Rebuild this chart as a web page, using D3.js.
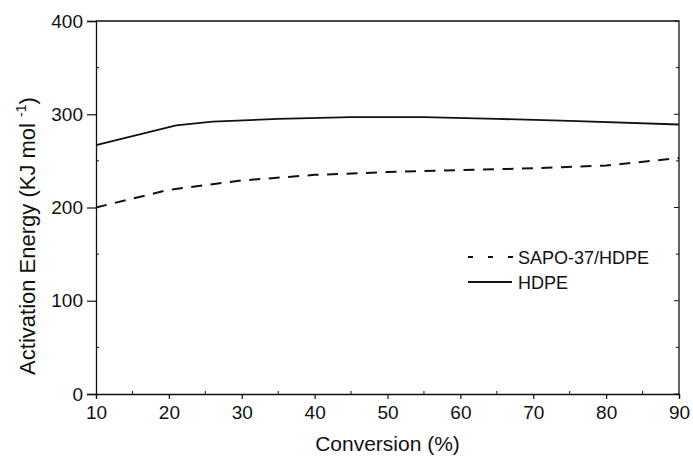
<!DOCTYPE html>
<html><head><meta charset="utf-8">
<script src="https://cdn.jsdelivr.net/npm/d3@7"></script>
<style>body{margin:0;background:#fff}svg{display:block}text{font-family:"Liberation Sans",Arial,sans-serif;fill:#111}</style>
</head><body><svg id="c" width="693" height="458"></svg>
<script>
const sapoX = [10, 20, 30, 40, 50, 60, 70, 80, 90];
const sapoY = [200, 219, 229, 235, 238, 240, 242, 245, 253];
const hdpeX = [10, 21, 26, 35, 45, 55, 65, 75, 90];
const hdpeY = [267, 288, 292, 295, 297, 297, 295, 293, 289];
const xTicks = [10, 20, 30, 40, 50, 60, 70, 80, 90];
const yTicks = [0, 100, 200, 300, 400];
const seriesNames = ["SAPO-37/HDPE", "HDPE"];

const svg = d3.select("#c");
const L = 96, R = 679, T = 21, B = 394;
const x = d3.scaleLinear().domain([10, 90]).range([L, R]);
const y = d3.scaleLinear().domain([0, 400]).range([B, T]);
const ink = "#111";

// frame
svg.append("path").attr("d", `M${L},${T}H${R}V${B}`).attr("fill","none").attr("stroke",ink).attr("stroke-width",1.3);

// left axis
const ya = svg.append("g").attr("transform",`translate(${L},0)`)
  .call(d3.axisLeft(y).tickValues(yTicks).tickSize(9).tickPadding(4).tickFormat(d3.format("d")));
ya.select(".domain").attr("stroke",ink).attr("stroke-width",1.3);
ya.selectAll(".tick line").attr("stroke",ink).attr("stroke-width",1.2);
ya.selectAll("text").attr("font-size",19).attr("fill",ink);
// minor y ticks (inward)
svg.append("g").selectAll("line").data(d3.range(50,400,100)).join("line")
  .attr("x1",L).attr("x2",L+3).attr("y1",d=>y(d)).attr("y2",d=>y(d)).attr("stroke",ink);
// right axis ticks
svg.append("g").selectAll("line").data(d3.range(0,401,50)).join("line")
  .attr("x1",R).attr("x2",d=> d%100===0 ? R-5 : R-3).attr("y1",d=>y(d)).attr("y2",d=>y(d)).attr("stroke",ink);

// bottom axis
const xa = svg.append("g").attr("transform",`translate(0,${B})`)
  .call(d3.axisBottom(x).tickValues(xTicks).tickSize(5).tickPadding(7).tickFormat(d3.format("d")));
xa.select(".domain").attr("stroke",ink).attr("stroke-width",1.3);
xa.selectAll(".tick line").attr("stroke",ink).attr("stroke-width",1.2);
xa.selectAll("text").attr("font-size",19).attr("fill",ink);
svg.append("g").selectAll("line").data(d3.range(15,90,10)).join("line")
  .attr("x1",d=>x(d)).attr("x2",d=>x(d)).attr("y1",B).attr("y2",B-3).attr("stroke",ink);

// axis titles
const yt = svg.append("text").attr("transform",`translate(35,236) rotate(-90)`).attr("text-anchor","middle")
  .attr("font-size",22);
yt.append("tspan").text("Activation Energy (KJ mol ");
yt.append("tspan").attr("font-size",14).attr("dy",-9).text("-1");
yt.append("tspan").attr("dy",9).text(")");
svg.append("text").attr("x",(L+R)/2).attr("y",451).attr("text-anchor","middle").attr("font-size",21).text("Conversion (%)");

// lines
const line = d3.line().x(d=>x(d[0])).y(d=>y(d[1]));
svg.append("path").datum(sapoX.map((v,i)=>[v,sapoY[i]])).attr("d",line)
  .attr("fill","none").attr("stroke",ink).attr("stroke-width",2).attr("stroke-dasharray","11,8.5");
svg.append("path").datum(hdpeX.map((v,i)=>[v,hdpeY[i]])).attr("d",line)
  .attr("fill","none").attr("stroke",ink).attr("stroke-width",1.8);

// legend
const lg = svg.append("g");
lg.append("line").attr("x1",468).attr("x2",513).attr("y1",257).attr("y2",257).attr("stroke",ink).attr("stroke-width",2).attr("stroke-dasharray","5,15");
lg.append("text").attr("x",518).attr("y",263.5).attr("font-size",18).text(seriesNames[0]);
lg.append("line").attr("x1",468).attr("x2",512).attr("y1",282).attr("y2",282).attr("stroke",ink).attr("stroke-width",1.8);
lg.append("text").attr("x",518).attr("y",289).attr("font-size",18).text(seriesNames[1]);
</script></body></html>
